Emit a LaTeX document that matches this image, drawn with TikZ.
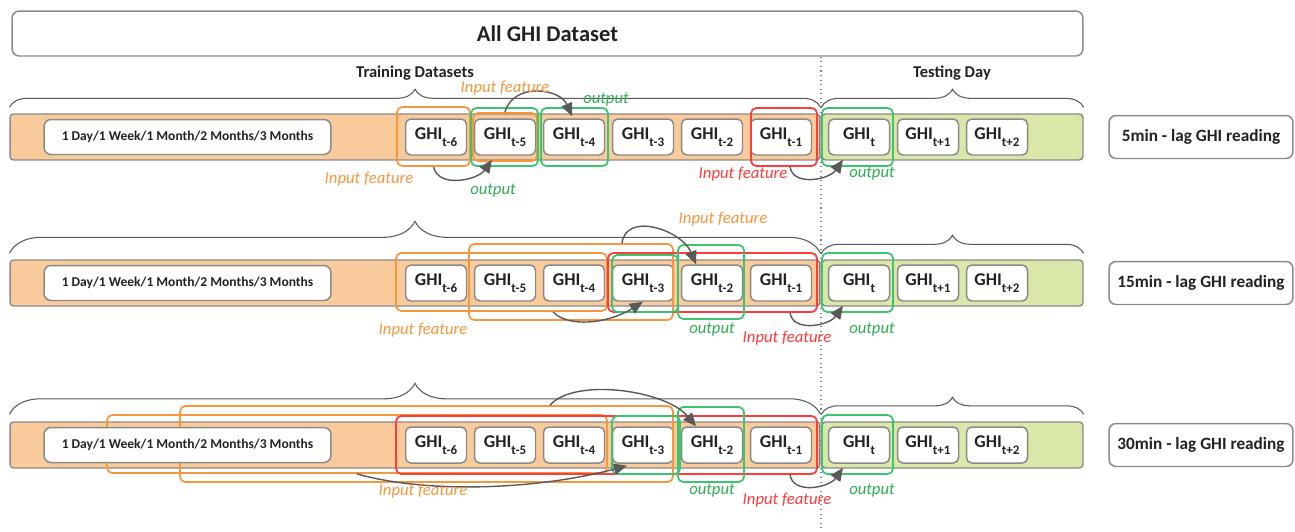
\documentclass[tikz,border=0pt]{standalone}
\usepackage{fontspec}
\setmainfont{Carlito}
\usetikzlibrary{arrows.meta,decorations.pathreplacing}

\definecolor{trainfill}{HTML}{FACB9A}
\definecolor{testfill}{HTML}{D9E7A9}
\definecolor{boxline}{HTML}{8A8A8A}
\definecolor{inorange}{HTML}{F7963C}
\definecolor{inred}{HTML}{FF3B3B}
\definecolor{outgreen}{HTML}{3CC46E}
\definecolor{outtext}{HTML}{2EAF52}
\definecolor{arrowgray}{HTML}{595959}
\definecolor{inktext}{HTML}{222222}

\newcommand{\ghi}[1]{GHI\raisebox{-0.36em}{\fontsize{7.4}{8}\selectfont #1}}

\begin{document}
\begin{tikzpicture}[x=0.02cm, y=-0.02cm,
    bar/.style={draw=boxline, line width=0.8pt, rounded corners=2pt, minimum height=0.92cm, inner sep=0pt},
    ghibox/.style={draw=boxline, fill=white, line width=0.85pt, rounded corners=3pt, minimum width=1.22cm, minimum height=0.72cm, inner sep=0pt, text=inktext, font=\bfseries\fontsize{10.2}{12}\selectfont},
    span/.style={draw=boxline, fill=white, line width=0.85pt, rounded corners=4pt, minimum width=5.74cm, minimum height=0.7cm, inner sep=0pt, text=inktext, font=\bfseries\fontsize{7.7}{9}\selectfont},
    lagbox/.style={draw=boxline, fill=white, line width=0.85pt, rounded corners=4pt, minimum width=3.68cm, minimum height=0.86cm, inner sep=0pt, text=inktext, font=\bfseries\fontsize{9.8}{12}\selectfont},
    titlebox/.style={draw=boxline, fill=white, line width=0.85pt, rounded corners=4pt, minimum width=21.42cm, minimum height=0.9cm, inner sep=0pt, text=inktext, font=\bfseries\fontsize{12.8}{15}\selectfont},
    head/.style={text=inktext, font=\bfseries\fontsize{9.4}{11}\selectfont},
    sel/.style={draw=#1, line width=1pt, rounded corners=3pt, inner sep=0pt},
    note/.style={text=#1, font=\itshape\fontsize{9.5}{11}\selectfont},
    arr/.style={-{Triangle[length=7.5pt,width=6.5pt]}, draw=arrowgray, line width=0.8pt},
    brc/.style={decorate, decoration={brace, amplitude=#1}, draw=arrowgray, line width=0.6pt},
    splitline/.style={draw=gray, dotted, line width=0.6pt}]
    \useasboundingbox (0,0) rectangle (1295,531);

    % Title and split between training and testing
    \node[titlebox] (title) at (547.5,33.5) {All GHI Dataset};
    \coordinate (cut) at (821,531);
    \draw[splitline] (title.south -| cut) -- (cut);
    \node[head] (trainhead) at (415,73) {Training Datasets};
    \node[head] (testhead) at (952,73) {Testing Day};

    % Draw the three lag rows
    \foreach \row/\ypos/\lag in {1/137/5, 2/283/15, 3/445/30} {
        \node[bar, fill=trainfill, minimum width=16.2cm] (train\row) at (415,\ypos) {};
        \node[bar, fill=testfill, minimum width=5.22cm] (test\row) at (952.5,\ypos) {};
        \foreach \k/\x in {6/436, 5/505, 4/574, 3/643, 2/712, 1/781}
            \node[ghibox] (r\row m\k) at (\x,\ypos) {\ghi{t-\k}};
        \node[ghibox] (r\row t) at (859,\ypos) {\ghi{t}};
        \node[ghibox] (r\row p1) at (928,\ypos) {\ghi{t+1}};
        \node[ghibox] (r\row p2) at (997,\ypos) {\ghi{t+2}};
        \node[lagbox] (lag\row) at (1201,\ypos) {\lag min - lag GHI reading};
    }

    % Braces over training and testing parts
    \draw[brc=0.36cm] ([yshift=0.12cm]train1.north west) -- ([yshift=0.12cm]train1.north east);
    \draw[brc=0.36cm] ([yshift=0.12cm]test1.north west) -- ([yshift=0.12cm]test1.north east);
    \draw[brc=0.64cm] ([yshift=0.12cm]train2.north west) -- ([yshift=0.12cm]train2.north east);
    \draw[brc=0.36cm] ([yshift=0.12cm]test2.north west) -- ([yshift=0.12cm]test2.north east);
    \draw[brc=0.62cm] ([yshift=0.14cm]train3.north west) -- ([yshift=0.14cm]train3.north east);
    \draw[brc=0.34cm] ([yshift=0.14cm]test3.north west) -- ([yshift=0.14cm]test3.north east);

    % Row 1: 5 min lag
    \node[sel=inorange, minimum width=1.46cm, minimum height=1.18cm] (r1a) at (433.5,136.5) {};
    \node[sel=inorange, minimum width=1.28cm, minimum height=0.96cm] (r1b) at (505,137) {};
    \node[sel=outgreen, minimum width=1.34cm, minimum height=1.16cm] (r1c) at (504.5,137) {};
    \node[sel=outgreen, minimum width=1.34cm, minimum height=1.16cm] (r1d) at (574.5,137) {};
    \node[sel=inred, minimum width=1.32cm, minimum height=1.16cm] (r1e) at (784,137) {};
    \node[sel=outgreen, minimum width=1.42cm, minimum height=1.16cm] (r1f) at (857.5,137) {};
    \draw[arr] (r1a.south) .. controls +(5,22) and +(-14,20) .. ([xshift=-0.26cm,yshift=-0.08cm]r1m5.south);
    \draw[arr] (r1b.north) .. controls +(8,-30) and +(-12,-28) .. ([xshift=-0.04cm,yshift=0.04cm]r1m4.north);
    \draw[arr] ([xshift=0.18cm,yshift=-0.22cm]r1m1.south) .. controls +(3,20) and +(-14,20) .. ([xshift=-0.32cm,yshift=-0.08cm]r1t.south);
    \node[note=inorange] (r1in1) at (369,179) {Input feature};
    \node[note=outtext] (r1out1) at (493,191) {output};
    \node[note=inorange] (r1in2) at (505,88) {Input feature};
    \node[note=outtext] (r1out2) at (606,100) {output};
    \node[note=inred] (r1in3) at (743,174) {Input feature};
    \node[note=outtext] (r1out3) at (872,174) {output};

    % Row 2: 15 min lag
    \node[sel=inorange, minimum width=4.22cm, minimum height=1.16cm] (r2a) at (501.5,282) {};
    \node[sel=inorange, minimum width=4.08cm, minimum height=1.52cm] (r2b) at (571,282) {};
    \node[sel=inred, minimum width=4.18cm, minimum height=1.18cm] (r2c) at (712.5,282.5) {};
    \node[sel=outgreen, minimum width=1.32cm, minimum height=1.14cm] (r2d) at (645,283.5) {};
    \node[sel=outgreen, minimum width=1.32cm, minimum height=1.48cm] (r2e) at (711,282) {};
    \node[sel=outgreen, minimum width=1.42cm, minimum height=1.18cm] (r2f) at (857.5,282.5) {};
    \draw[arr] ([xshift=1.03cm]r2a.south) .. controls +(15,16) and +(-35,22) .. (r2m3.south);
    \draw[arr] ([xshift=1.02cm]r2b.north) .. controls +(4,-32) and +(-14,-34) .. ([xshift=-0.32cm]r2m2.north);
    \draw[arr] ([xshift=0.18cm,yshift=-0.22cm]r2m1.south) .. controls +(3,20) and +(-14,20) .. ([xshift=-0.32cm,yshift=-0.08cm]r2t.south);
    \node[note=inorange] (r2in1) at (423,330) {Input feature};
    \node[note=inorange] (r2in2) at (723,219) {Input feature};
    \node[note=outtext] (r2out2) at (712,330) {output};
    \node[note=inred] (r2in3) at (787,338) {Input feature};
    \node[note=outtext] (r2out3) at (872,330) {output};

    % Row 3: 30 min lag
    \node[sel=inorange, minimum width=10cm, minimum height=1.16cm] (r3a) at (357,444) {};
    \node[sel=inorange, minimum width=9.86cm, minimum height=1.52cm] (r3b) at (426.5,444) {};
    \node[sel=inred, minimum width=8.42cm, minimum height=1.16cm] (r3c) at (606.5,445) {};
    \node[sel=outgreen, minimum width=1.36cm, minimum height=1.16cm] (r3d) at (646,445) {};
    \node[sel=outgreen, minimum width=1.32cm, minimum height=1.5cm] (r3e) at (711,444.5) {};
    \node[sel=outgreen, minimum width=1.42cm, minimum height=1.18cm] (r3f) at (857.5,444.5) {};
    \draw[arr] (r3a.south) .. controls +(70,20) and +(-90,24) .. ([xshift=-0.32cm,yshift=-0.04cm]r3m3.south);
    \draw[arr] ([xshift=2.47cm]r3b.north) .. controls +(25,-28) and +(-30,-36) .. ([xshift=-0.32cm]r3m2.north);
    \draw[arr] ([xshift=0.18cm,yshift=-0.22cm]r3m1.south) .. controls +(3,20) and +(-14,20) .. ([xshift=-0.32cm,yshift=-0.08cm]r3t.south);
    \node[note=inorange] (r3in1) at (423,491) {Input feature};
    \node[note=outtext] (r3out2) at (712,491) {output};
    \node[note=inred] (r3in3) at (787,500) {Input feature};
    \node[note=outtext] (r3out3) at (872,491) {output};

    % Period boxes sit on top of the selections
    \foreach \row/\ypos in {1/137, 2/283, 3/445}
        \node[span] (span\row) at (187.5,\ypos) {1 Day/1 Week/1 Month/2 Months/3 Months};
\end{tikzpicture}
\end{document}
